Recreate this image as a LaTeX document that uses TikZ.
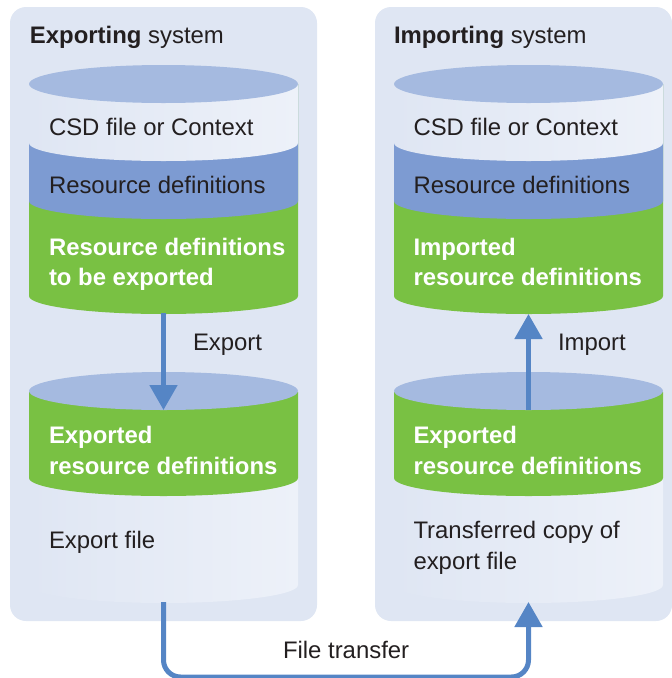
\documentclass[tikz,border=0pt]{standalone}
\usepackage{fontspec}
\setmainfont{Liberation Sans}
\usetikzlibrary{arrows.meta}
\definecolor{panelc}{HTML}{DFE6F3}
\definecolor{topc}{HTML}{A5BAE0}
\definecolor{bluec}{HTML}{7D9BD2}
\definecolor{greenc}{HTML}{79C143}
\definecolor{lightc}{HTML}{EDF1F9}
\definecolor{arrowc}{HTML}{5585C5}
\definecolor{inkc}{HTML}{231F20}
\tikzset{
  x=1pt,y=-1pt,
  panel/.style={fill=panelc,draw=none,rounded corners=16pt},
  lbl/.style={anchor=base west,inner sep=0pt,outer sep=0pt,text=inkc,font=\fontsize{23.9}{30.5}\selectfont,align=left},
  wlbl/.style={lbl,text=white,font=\fontsize{23.9}{30.5}\selectfont\bfseries},
  flow/.style={draw=arrowc,line width=5pt,-{Triangle[width=27pt,length=25pt]}},
  pipe/.style={flow,rounded corners=17pt},
}
% #1 centre x, #2 top y of side, #3 bottom y of side, #4 fill options
\newcommand{\layer}[4]{\path[#4] (#1-134.5,#2) -- (#1-134.5,#3) arc[start angle=180,end angle=360,x radius=134.5pt,y radius=18pt] -- (#1+134.5,#2) -- cycle;}
\newcommand{\lid}[2]{\path[fill=topc] (#1,#2) ellipse[x radius=134.5pt,y radius=19pt];}
\begin{document}
\begin{tikzpicture}
\useasboundingbox (0,0) rectangle (672,678);
\path[panel] (10,7) rectangle (317,621);
\path[panel] (375,7) rectangle (672,621);
% left upper cylinder
\layer{163.5}{84}{296}{fill=greenc}
\layer{163.5}{84}{201}{fill=bluec}
\layer{163.5}{84}{143}{left color=panelc,right color=lightc}
\lid{163.5}{84}
% right upper cylinder
\layer{528.5}{84}{296}{fill=greenc}
\layer{528.5}{84}{201}{fill=bluec}
\layer{528.5}{84}{143}{left color=panelc,right color=lightc}
\lid{528.5}{84}
% left lower cylinder
\layer{163.5}{392}{585}{left color=panelc,right color=lightc}
\layer{163.5}{392}{478}{fill=greenc}
\lid{163.5}{391}
% right lower cylinder
\layer{528.5}{392}{585}{left color=panelc,right color=lightc}
\layer{528.5}{392}{478}{fill=greenc}
\lid{528.5}{391}
% anchors of connectors
\coordinate (expTop) at (163.5,313);
\coordinate (expBot) at (163.5,410);
\coordinate (impBot) at (528.5,410);
\coordinate (impTop) at (528.5,314);
\coordinate (fileOut) at (163.5,602);
\coordinate (fileIn) at (528.5,602);
\coordinate (lowL) at (163.5,677);
\coordinate (lowR) at (528.5,677);
\draw[flow] (expTop) -- (expBot);
\draw[flow] (impBot) -- (impTop);
\draw[pipe] (fileOut) -- (lowL) -- (lowR) -- (fileIn);
% texts
\node[lbl] (t1) at (30,43) {\textbf{Exporting} system};
\node[lbl] (t2) at (394,43) {\textbf{Importing} system};
\node[lbl] (a1) at (49,135) {CSD file or Context};
\node[lbl] (a2) at (413.5,135) {CSD file or Context};
\node[lbl] (b1) at (49,193) {Resource definitions};
\node[lbl] (b2) at (413.5,193) {Resource definitions};
\node[wlbl] (c1) at (49,285.5) {Resource definitions\\to be exported};
\node[wlbl] (c2) at (413.5,285.5) {Imported\\resource definitions};
\node[lbl] (e1) at (193,350) {Export};
\node[lbl] (e2) at (558,350) {Import};
\node[wlbl] (d1) at (49,474) {Exported\\resource definitions};
\node[wlbl] (d2) at (413.5,474) {Exported\\resource definitions};
\node[lbl] (f1) at (49,548) {Export file};
\node[lbl] (f2) at (413.5,569) {Transferred copy of\\export file};
\node[lbl] (g) at (283,658) {File transfer};
\end{tikzpicture}
\end{document}
